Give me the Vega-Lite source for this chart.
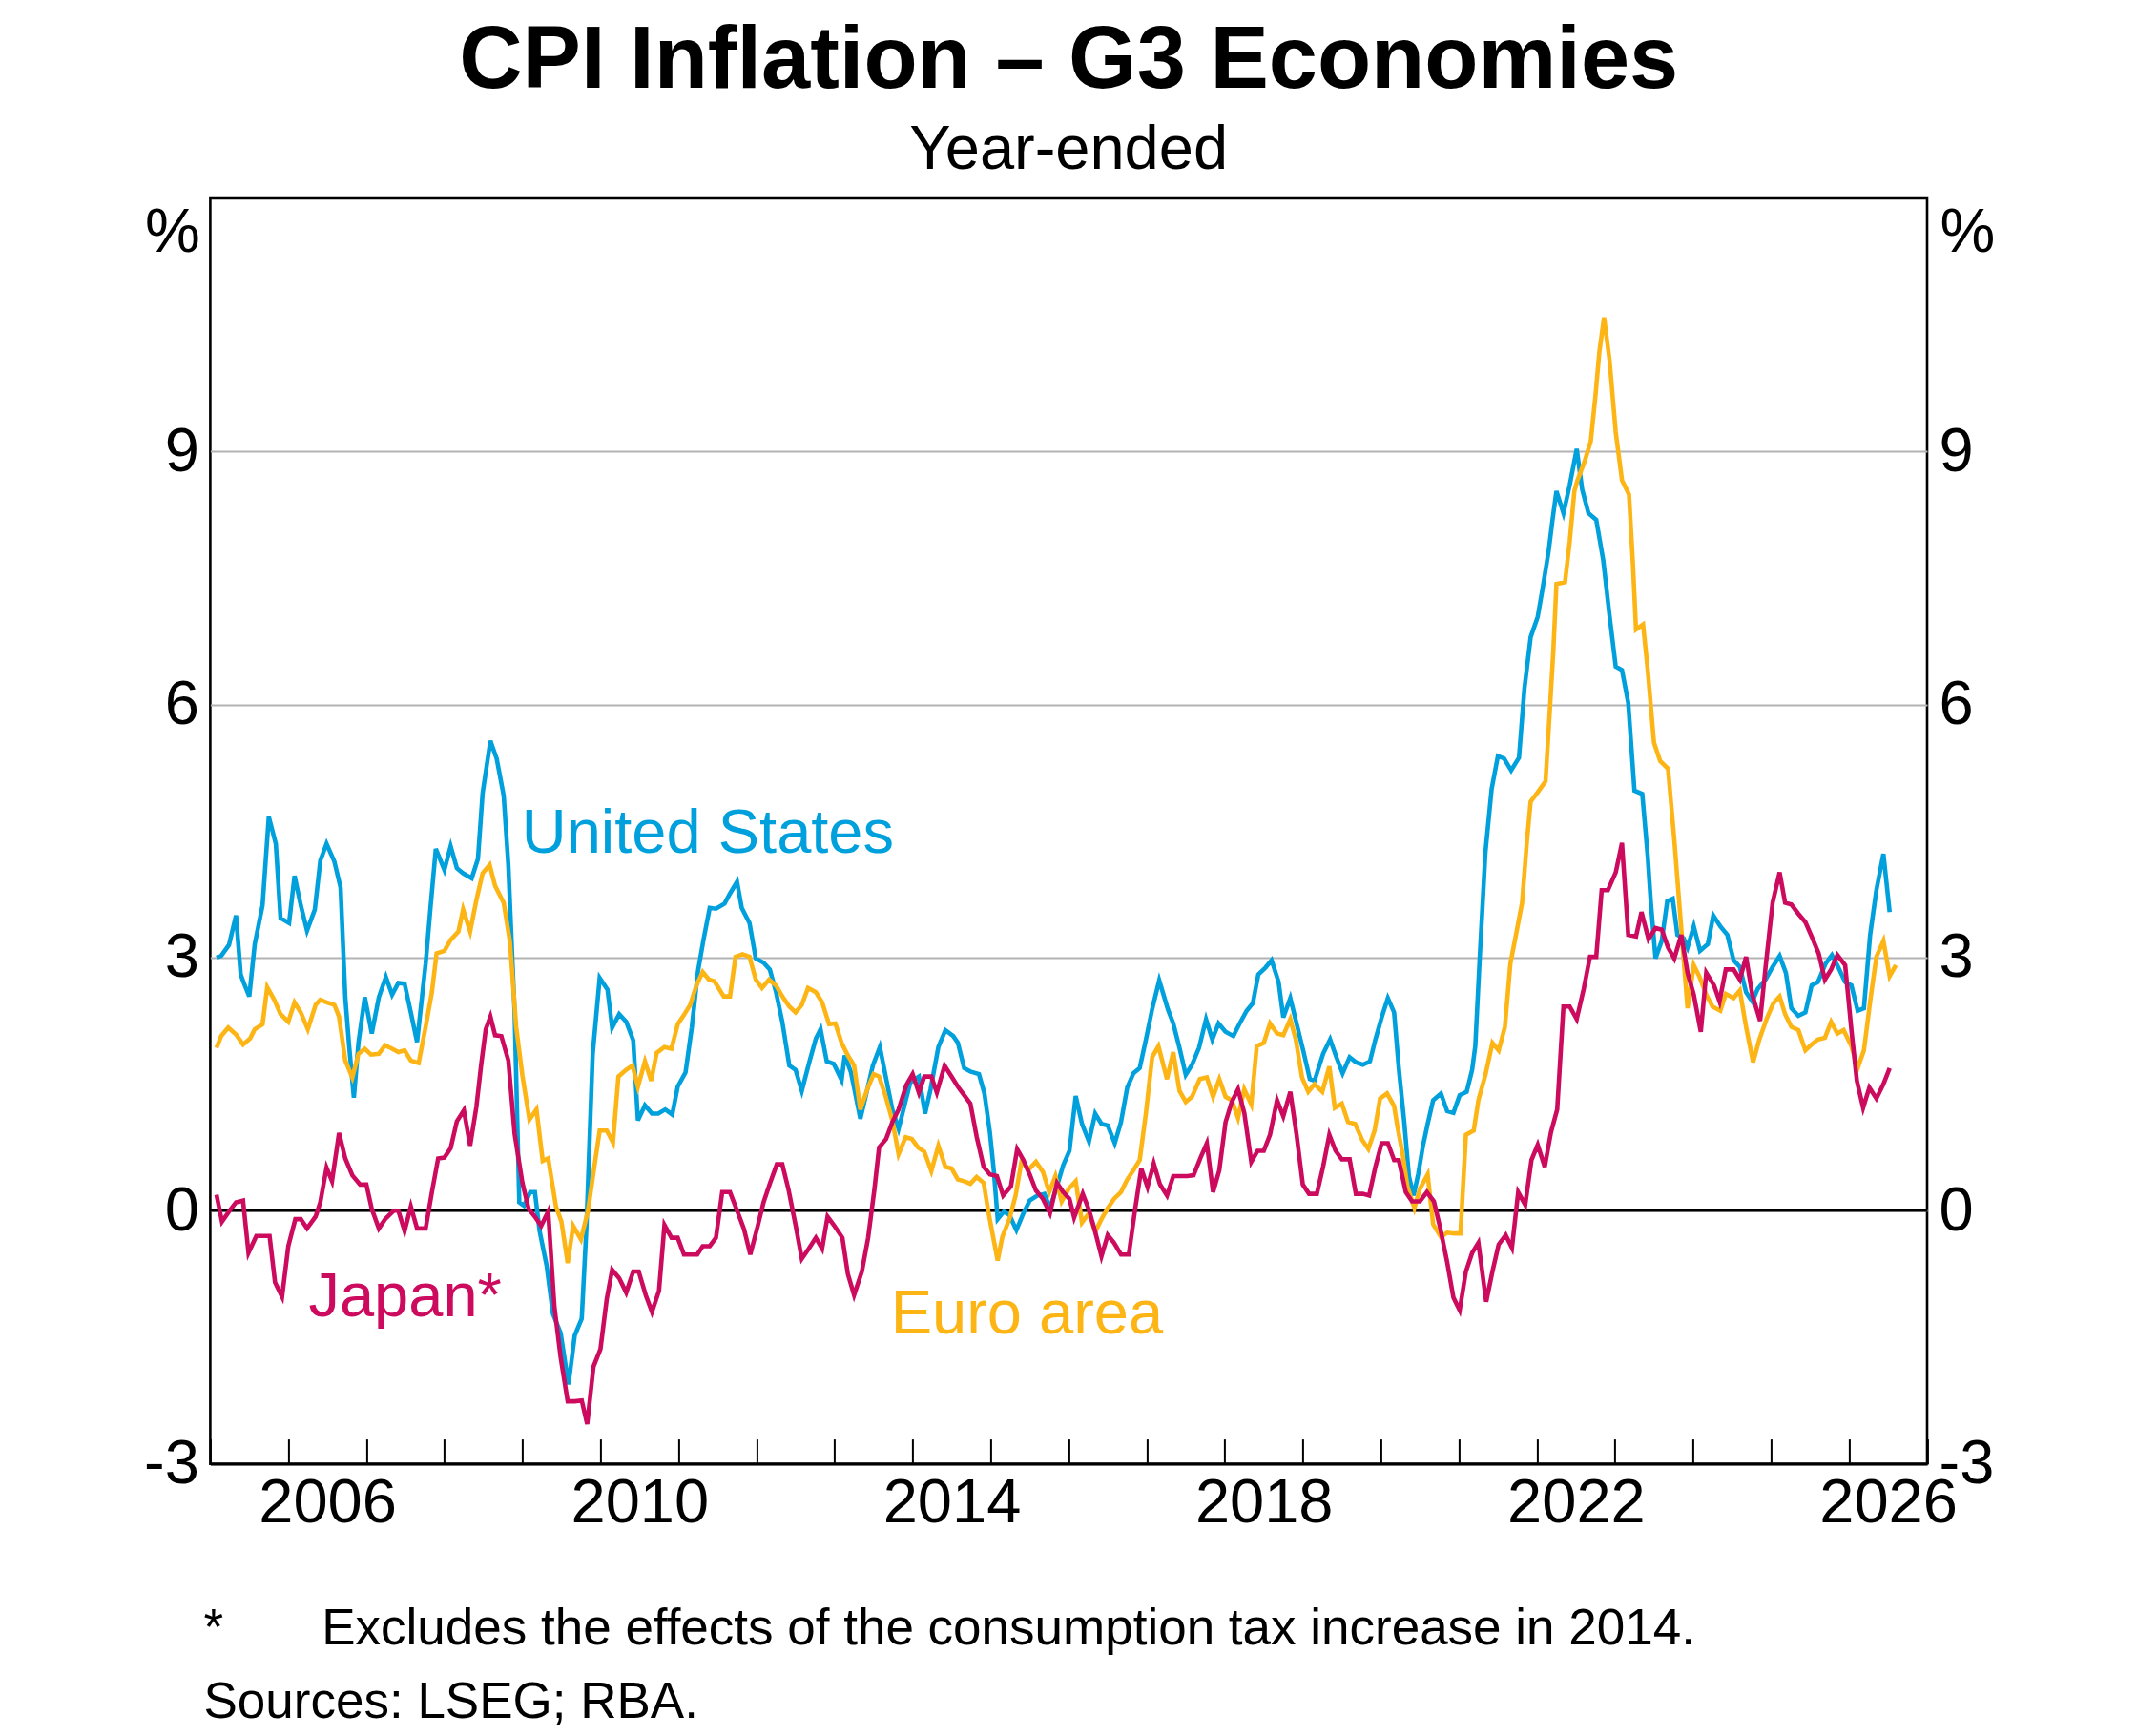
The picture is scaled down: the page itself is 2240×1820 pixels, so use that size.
{
  "$schema": "https://vega.github.io/schema/vega-lite/v6.json",
  "width": 1799.6,
  "height": 1326.6,
  "autosize": {"type": "none"},
  "padding": {"left": 220.4, "top": 208, "right": 220, "bottom": 285.4},
  "background": "white",
  "title": {
    "text": "CPI Inflation – G3 Economies",
    "subtitle": "Year-ended",
    "anchor": "middle",
    "frame": "group",
    "font": "Liberation Sans",
    "fontSize": 92,
    "fontWeight": "bold",
    "color": "black",
    "subtitleFont": "Liberation Sans",
    "subtitleFontSize": 65,
    "subtitleColor": "black",
    "subtitlePadding": 15,
    "offset": 17
  },
  "datasets": {
    "cpi": [
      {"s":"US","t":2005.08,"v":3.0},{"s":"US","t":2005.14,"v":3.02},{"s":"US","t":2005.24,"v":3.15},{"s":"US","t":2005.33,"v":3.5},{"s":"US","t":2005.39,"v":2.8},{"s":"US","t":2005.43,"v":2.7},{"s":"US","t":2005.5,"v":2.54},{"s":"US","t":2005.57,"v":3.16},{"s":"US","t":2005.67,"v":3.62},{"s":"US","t":2005.75,"v":4.67},{"s":"US","t":2005.84,"v":4.35},{"s":"US","t":2005.9,"v":3.47},
      {"s":"US","t":2006.01,"v":3.41},{"s":"US","t":2006.08,"v":3.97},{"s":"US","t":2006.16,"v":3.62},{"s":"US","t":2006.24,"v":3.32},{"s":"US","t":2006.34,"v":3.57},{"s":"US","t":2006.41,"v":4.15},{"s":"US","t":2006.49,"v":4.35},{"s":"US","t":2006.59,"v":4.14},{"s":"US","t":2006.67,"v":3.83},{"s":"US","t":2006.73,"v":2.53},{"s":"US","t":2006.78,"v":1.95},{"s":"US","t":2006.84,"v":1.34},{"s":"US","t":2006.9,"v":2.0},{"s":"US","t":2006.98,"v":2.53},
      {"s":"US","t":2007.07,"v":2.1},{"s":"US","t":2007.16,"v":2.53},{"s":"US","t":2007.25,"v":2.77},{"s":"US","t":2007.33,"v":2.56},{"s":"US","t":2007.41,"v":2.7},{"s":"US","t":2007.49,"v":2.69},{"s":"US","t":2007.57,"v":2.35},{"s":"US","t":2007.65,"v":2.0},{"s":"US","t":2007.76,"v":2.93},{"s":"US","t":2007.82,"v":3.57},{"s":"US","t":2007.89,"v":4.29},
      {"s":"US","t":2008.0,"v":4.04},{"s":"US","t":2008.08,"v":4.32},{"s":"US","t":2008.16,"v":4.06},{"s":"US","t":2008.24,"v":4.0},{"s":"US","t":2008.35,"v":3.94},{"s":"US","t":2008.43,"v":4.17},{"s":"US","t":2008.49,"v":4.95},{"s":"US","t":2008.59,"v":5.57},{"s":"US","t":2008.67,"v":5.36},{"s":"US","t":2008.76,"v":4.92},{"s":"US","t":2008.82,"v":4.09},{"s":"US","t":2008.9,"v":2.35},{"s":"US","t":2008.96,"v":0.1},
      {"s":"US","t":2009.02,"v":0.06},{"s":"US","t":2009.1,"v":0.22},{"s":"US","t":2009.16,"v":0.22},{"s":"US","t":2009.22,"v":-0.24},{"s":"US","t":2009.31,"v":-0.65},{"s":"US","t":2009.39,"v":-1.22},{"s":"US","t":2009.49,"v":-1.45},{"s":"US","t":2009.59,"v":-2.06},{"s":"US","t":2009.67,"v":-1.48},{"s":"US","t":2009.76,"v":-1.28},{"s":"US","t":2009.82,"v":-0.2},{"s":"US","t":2009.9,"v":1.85},{"s":"US","t":2009.99,"v":2.76},
      {"s":"US","t":2010.09,"v":2.62},{"s":"US","t":2010.15,"v":2.17},{"s":"US","t":2010.24,"v":2.33},{"s":"US","t":2010.33,"v":2.24},{"s":"US","t":2010.42,"v":2.02},{"s":"US","t":2010.48,"v":1.07},{"s":"US","t":2010.57,"v":1.25},{"s":"US","t":2010.66,"v":1.15},{"s":"US","t":2010.74,"v":1.15},{"s":"US","t":2010.83,"v":1.2},{"s":"US","t":2010.92,"v":1.14},{"s":"US","t":2010.99,"v":1.47},
      {"s":"US","t":2011.09,"v":1.64},{"s":"US","t":2011.17,"v":2.17},{"s":"US","t":2011.25,"v":2.84},{"s":"US","t":2011.32,"v":3.21},{"s":"US","t":2011.4,"v":3.59},{"s":"US","t":2011.48,"v":3.58},{"s":"US","t":2011.59,"v":3.64},{"s":"US","t":2011.66,"v":3.76},{"s":"US","t":2011.75,"v":3.9},{"s":"US","t":2011.81,"v":3.59},{"s":"US","t":2011.91,"v":3.41},{"s":"US","t":2011.99,"v":2.99},
      {"s":"US","t":2012.09,"v":2.94},{"s":"US","t":2012.17,"v":2.86},{"s":"US","t":2012.25,"v":2.59},{"s":"US","t":2012.33,"v":2.24},{"s":"US","t":2012.42,"v":1.72},{"s":"US","t":2012.5,"v":1.67},{"s":"US","t":2012.58,"v":1.42},{"s":"US","t":2012.67,"v":1.74},{"s":"US","t":2012.76,"v":2.04},{"s":"US","t":2012.82,"v":2.15},{"s":"US","t":2012.9,"v":1.77},{"s":"US","t":2012.99,"v":1.74},
      {"s":"US","t":2013.09,"v":1.55},{"s":"US","t":2013.13,"v":1.84},{"s":"US","t":2013.21,"v":1.64},{"s":"US","t":2013.33,"v":1.09},{"s":"US","t":2013.42,"v":1.44},{"s":"US","t":2013.49,"v":1.72},{"s":"US","t":2013.58,"v":1.94},{"s":"US","t":2013.66,"v":1.57},{"s":"US","t":2013.74,"v":1.2},{"s":"US","t":2013.82,"v":0.97},{"s":"US","t":2013.91,"v":1.3},{"s":"US","t":2013.97,"v":1.52},
      {"s":"US","t":2014.08,"v":1.59},{"s":"US","t":2014.16,"v":1.15},{"s":"US","t":2014.23,"v":1.44},{"s":"US","t":2014.33,"v":1.94},{"s":"US","t":2014.42,"v":2.14},{"s":"US","t":2014.52,"v":2.07},{"s":"US","t":2014.58,"v":1.99},{"s":"US","t":2014.66,"v":1.69},{"s":"US","t":2014.74,"v":1.65},{"s":"US","t":2014.85,"v":1.62},{"s":"US","t":2014.92,"v":1.39},{"s":"US","t":2014.99,"v":0.93},
      {"s":"US","t":2015.04,"v":0.48},{"s":"US","t":2015.09,"v":-0.1},{"s":"US","t":2015.17,"v":-0.01},{"s":"US","t":2015.24,"v":-0.05},{"s":"US","t":2015.33,"v":-0.23},{"s":"US","t":2015.42,"v":-0.03},{"s":"US","t":2015.5,"v":0.12},{"s":"US","t":2015.6,"v":0.18},{"s":"US","t":2015.69,"v":0.2},{"s":"US","t":2015.76,"v":0.03},{"s":"US","t":2015.85,"v":0.29},{"s":"US","t":2015.93,"v":0.54},
      {"s":"US","t":2016.01,"v":0.71},{"s":"US","t":2016.09,"v":1.36},{"s":"US","t":2016.17,"v":1.03},{"s":"US","t":2016.26,"v":0.82},{"s":"US","t":2016.34,"v":1.15},{"s":"US","t":2016.42,"v":1.03},{"s":"US","t":2016.5,"v":1.01},{"s":"US","t":2016.59,"v":0.8},{"s":"US","t":2016.67,"v":1.05},{"s":"US","t":2016.75,"v":1.46},{"s":"US","t":2016.83,"v":1.63},{"s":"US","t":2016.91,"v":1.69},{"s":"US","t":2016.99,"v":2.03},
      {"s":"US","t":2017.07,"v":2.39},{"s":"US","t":2017.16,"v":2.73},{"s":"US","t":2017.27,"v":2.39},{"s":"US","t":2017.34,"v":2.22},{"s":"US","t":2017.42,"v":1.93},{"s":"US","t":2017.5,"v":1.61},{"s":"US","t":2017.58,"v":1.73},{"s":"US","t":2017.67,"v":1.93},{"s":"US","t":2017.76,"v":2.27},{"s":"US","t":2017.84,"v":2.03},{"s":"US","t":2017.92,"v":2.22},
      {"s":"US","t":2018.01,"v":2.12},{"s":"US","t":2018.11,"v":2.07},{"s":"US","t":2018.18,"v":2.2},{"s":"US","t":2018.28,"v":2.37},{"s":"US","t":2018.36,"v":2.46},{"s":"US","t":2018.43,"v":2.8},{"s":"US","t":2018.52,"v":2.88},{"s":"US","t":2018.6,"v":2.97},{"s":"US","t":2018.69,"v":2.71},{"s":"US","t":2018.75,"v":2.29},{"s":"US","t":2018.84,"v":2.52},{"s":"US","t":2018.92,"v":2.22},
      {"s":"US","t":2019.01,"v":1.88},{"s":"US","t":2019.09,"v":1.56},{"s":"US","t":2019.15,"v":1.54},{"s":"US","t":2019.26,"v":1.86},{"s":"US","t":2019.35,"v":2.03},{"s":"US","t":2019.43,"v":1.82},{"s":"US","t":2019.51,"v":1.63},{"s":"US","t":2019.6,"v":1.82},{"s":"US","t":2019.68,"v":1.76},{"s":"US","t":2019.77,"v":1.73},{"s":"US","t":2019.86,"v":1.77},{"s":"US","t":2019.93,"v":2.03},
      {"s":"US","t":2020.01,"v":2.29},{"s":"US","t":2020.09,"v":2.52},{"s":"US","t":2020.17,"v":2.35},{"s":"US","t":2020.23,"v":1.69},{"s":"US","t":2020.3,"v":1.05},{"s":"US","t":2020.36,"v":0.41},{"s":"US","t":2020.42,"v":0.18},{"s":"US","t":2020.48,"v":0.44},{"s":"US","t":2020.54,"v":0.77},{"s":"US","t":2020.6,"v":1.03},{"s":"US","t":2020.67,"v":1.31},{"s":"US","t":2020.77,"v":1.39},{"s":"US","t":2020.85,"v":1.18},{"s":"US","t":2020.93,"v":1.16},
      {"s":"US","t":2021.01,"v":1.37},{"s":"US","t":2021.1,"v":1.41},{"s":"US","t":2021.17,"v":1.67},{"s":"US","t":2021.21,"v":1.95},{"s":"US","t":2021.27,"v":3.05},{"s":"US","t":2021.34,"v":4.25},{"s":"US","t":2021.42,"v":5.0},{"s":"US","t":2021.5,"v":5.39},{"s":"US","t":2021.58,"v":5.36},{"s":"US","t":2021.67,"v":5.22},{"s":"US","t":2021.77,"v":5.37},{"s":"US","t":2021.84,"v":6.19},{"s":"US","t":2021.92,"v":6.8},
      {"s":"US","t":2022.01,"v":7.04},{"s":"US","t":2022.07,"v":7.36},{"s":"US","t":2022.15,"v":7.82},{"s":"US","t":2022.2,"v":8.19},{"s":"US","t":2022.25,"v":8.53},{"s":"US","t":2022.34,"v":8.27},{"s":"US","t":2022.42,"v":8.6},{"s":"US","t":2022.51,"v":9.03},{"s":"US","t":2022.58,"v":8.55},{"s":"US","t":2022.66,"v":8.27},{"s":"US","t":2022.76,"v":8.19},{"s":"US","t":2022.85,"v":7.71},{"s":"US","t":2022.93,"v":7.06},
      {"s":"US","t":2023.01,"v":6.45},{"s":"US","t":2023.09,"v":6.41},{"s":"US","t":2023.17,"v":6.02},{"s":"US","t":2023.25,"v":4.98},{"s":"US","t":2023.35,"v":4.94},{"s":"US","t":2023.42,"v":4.2},{"s":"US","t":2023.46,"v":3.65},{"s":"US","t":2023.52,"v":2.99},{"s":"US","t":2023.6,"v":3.2},{"s":"US","t":2023.67,"v":3.67},{"s":"US","t":2023.74,"v":3.7},{"s":"US","t":2023.8,"v":3.27},{"s":"US","t":2023.88,"v":3.23},{"s":"US","t":2023.93,"v":3.12},
      {"s":"US","t":2024.01,"v":3.37},{"s":"US","t":2024.09,"v":3.08},{"s":"US","t":2024.19,"v":3.16},{"s":"US","t":2024.26,"v":3.5},{"s":"US","t":2024.35,"v":3.37},{"s":"US","t":2024.44,"v":3.27},{"s":"US","t":2024.52,"v":2.97},{"s":"US","t":2024.6,"v":2.89},{"s":"US","t":2024.68,"v":2.59},{"s":"US","t":2024.76,"v":2.48},{"s":"US","t":2024.83,"v":2.63},{"s":"US","t":2024.93,"v":2.74},
      {"s":"US","t":2025.02,"v":2.89},{"s":"US","t":2025.11,"v":3.02},{"s":"US","t":2025.19,"v":2.82},{"s":"US","t":2025.26,"v":2.4},{"s":"US","t":2025.35,"v":2.31},{"s":"US","t":2025.44,"v":2.35},{"s":"US","t":2025.52,"v":2.67},{"s":"US","t":2025.6,"v":2.71},{"s":"US","t":2025.7,"v":2.93},{"s":"US","t":2025.78,"v":3.03},{"s":"US","t":2025.86,"v":2.89},{"s":"US","t":2025.95,"v":2.71},
      {"s":"US","t":2026.03,"v":2.67},{"s":"US","t":2026.11,"v":2.37},{"s":"US","t":2026.19,"v":2.4},{"s":"US","t":2026.27,"v":3.27},{"s":"US","t":2026.35,"v":3.8},{"s":"US","t":2026.44,"v":4.23},{"s":"US","t":2026.52,"v":3.54},

      {"s":"EA","t":2005.08,"v":1.93},{"s":"EA","t":2005.14,"v":2.07},{"s":"EA","t":2005.23,"v":2.17},{"s":"EA","t":2005.33,"v":2.09},{"s":"EA","t":2005.42,"v":1.97},{"s":"EA","t":2005.51,"v":2.04},{"s":"EA","t":2005.57,"v":2.15},{"s":"EA","t":2005.67,"v":2.21},{"s":"EA","t":2005.73,"v":2.65},{"s":"EA","t":2005.82,"v":2.5},{"s":"EA","t":2005.9,"v":2.33},
      {"s":"EA","t":2006.0,"v":2.24},{"s":"EA","t":2006.08,"v":2.47},{"s":"EA","t":2006.16,"v":2.35},{"s":"EA","t":2006.25,"v":2.15},{"s":"EA","t":2006.35,"v":2.44},{"s":"EA","t":2006.41,"v":2.5},{"s":"EA","t":2006.49,"v":2.47},{"s":"EA","t":2006.59,"v":2.44},{"s":"EA","t":2006.65,"v":2.3},{"s":"EA","t":2006.73,"v":1.78},{"s":"EA","t":2006.82,"v":1.58},{"s":"EA","t":2006.9,"v":1.86},{"s":"EA","t":2006.98,"v":1.92},
      {"s":"EA","t":2007.06,"v":1.85},{"s":"EA","t":2007.16,"v":1.86},{"s":"EA","t":2007.24,"v":1.96},{"s":"EA","t":2007.33,"v":1.92},{"s":"EA","t":2007.41,"v":1.88},{"s":"EA","t":2007.49,"v":1.9},{"s":"EA","t":2007.57,"v":1.78},{"s":"EA","t":2007.67,"v":1.75},{"s":"EA","t":2007.76,"v":2.18},{"s":"EA","t":2007.84,"v":2.59},{"s":"EA","t":2007.9,"v":3.05},
      {"s":"EA","t":2008.0,"v":3.08},{"s":"EA","t":2008.08,"v":3.21},{"s":"EA","t":2008.18,"v":3.31},{"s":"EA","t":2008.24,"v":3.57},{"s":"EA","t":2008.33,"v":3.31},{"s":"EA","t":2008.41,"v":3.68},{"s":"EA","t":2008.49,"v":4.0},{"s":"EA","t":2008.58,"v":4.1},{"s":"EA","t":2008.65,"v":3.85},{"s":"EA","t":2008.76,"v":3.65},{"s":"EA","t":2008.84,"v":3.19},{"s":"EA","t":2008.92,"v":2.18},
      {"s":"EA","t":2009.0,"v":1.6},{"s":"EA","t":2009.09,"v":1.08},{"s":"EA","t":2009.18,"v":1.2},{"s":"EA","t":2009.26,"v":0.59},{"s":"EA","t":2009.33,"v":0.62},{"s":"EA","t":2009.43,"v":0.05},{"s":"EA","t":2009.5,"v":-0.13},{"s":"EA","t":2009.58,"v":-0.62},{"s":"EA","t":2009.65,"v":-0.18},{"s":"EA","t":2009.75,"v":-0.34},{"s":"EA","t":2009.84,"v":0.0},{"s":"EA","t":2009.91,"v":0.45},{"s":"EA","t":2009.99,"v":0.95},
      {"s":"EA","t":2010.08,"v":0.95},{"s":"EA","t":2010.16,"v":0.81},{"s":"EA","t":2010.23,"v":1.59},{"s":"EA","t":2010.33,"v":1.67},{"s":"EA","t":2010.41,"v":1.72},{"s":"EA","t":2010.48,"v":1.47},{"s":"EA","t":2010.57,"v":1.77},{"s":"EA","t":2010.65,"v":1.54},{"s":"EA","t":2010.72,"v":1.87},{"s":"EA","t":2010.82,"v":1.94},{"s":"EA","t":2010.91,"v":1.92},{"s":"EA","t":2010.99,"v":2.21},
      {"s":"EA","t":2011.07,"v":2.32},{"s":"EA","t":2011.15,"v":2.44},{"s":"EA","t":2011.23,"v":2.67},{"s":"EA","t":2011.31,"v":2.83},{"s":"EA","t":2011.39,"v":2.74},{"s":"EA","t":2011.46,"v":2.72},{"s":"EA","t":2011.58,"v":2.54},{"s":"EA","t":2011.66,"v":2.54},{"s":"EA","t":2011.73,"v":3.01},{"s":"EA","t":2011.82,"v":3.04},{"s":"EA","t":2011.91,"v":3.01},{"s":"EA","t":2011.99,"v":2.74},
      {"s":"EA","t":2012.07,"v":2.64},{"s":"EA","t":2012.16,"v":2.74},{"s":"EA","t":2012.25,"v":2.67},{"s":"EA","t":2012.33,"v":2.54},{"s":"EA","t":2012.42,"v":2.42},{"s":"EA","t":2012.5,"v":2.35},{"s":"EA","t":2012.58,"v":2.44},{"s":"EA","t":2012.66,"v":2.64},{"s":"EA","t":2012.76,"v":2.59},{"s":"EA","t":2012.84,"v":2.47},{"s":"EA","t":2012.93,"v":2.21},
      {"s":"EA","t":2013.01,"v":2.22},{"s":"EA","t":2013.09,"v":1.99},{"s":"EA","t":2013.17,"v":1.84},{"s":"EA","t":2013.25,"v":1.72},{"s":"EA","t":2013.33,"v":1.2},{"s":"EA","t":2013.42,"v":1.44},{"s":"EA","t":2013.5,"v":1.62},{"s":"EA","t":2013.57,"v":1.59},{"s":"EA","t":2013.65,"v":1.37},{"s":"EA","t":2013.74,"v":1.07},{"s":"EA","t":2013.82,"v":0.67},{"s":"EA","t":2013.91,"v":0.87},{"s":"EA","t":2013.99,"v":0.85},
      {"s":"EA","t":2014.07,"v":0.75},{"s":"EA","t":2014.15,"v":0.7},{"s":"EA","t":2014.24,"v":0.47},{"s":"EA","t":2014.33,"v":0.77},{"s":"EA","t":2014.42,"v":0.52},{"s":"EA","t":2014.5,"v":0.5},{"s":"EA","t":2014.58,"v":0.37},{"s":"EA","t":2014.66,"v":0.35},{"s":"EA","t":2014.74,"v":0.32},{"s":"EA","t":2014.82,"v":0.4},{"s":"EA","t":2014.91,"v":0.33},{"s":"EA","t":2014.97,"v":-0.01},
      {"s":"EA","t":2015.04,"v":-0.35},{"s":"EA","t":2015.09,"v":-0.59},{"s":"EA","t":2015.15,"v":-0.31},{"s":"EA","t":2015.24,"v":-0.1},{"s":"EA","t":2015.32,"v":0.18},{"s":"EA","t":2015.4,"v":0.61},{"s":"EA","t":2015.48,"v":0.48},{"s":"EA","t":2015.58,"v":0.58},{"s":"EA","t":2015.67,"v":0.46},{"s":"EA","t":2015.75,"v":0.22},{"s":"EA","t":2015.83,"v":0.41},{"s":"EA","t":2015.91,"v":0.11},
      {"s":"EA","t":2016.0,"v":0.26},{"s":"EA","t":2016.09,"v":0.35},{"s":"EA","t":2016.17,"v":-0.14},{"s":"EA","t":2016.26,"v":-0.03},{"s":"EA","t":2016.34,"v":-0.25},{"s":"EA","t":2016.42,"v":-0.1},{"s":"EA","t":2016.5,"v":0.03},{"s":"EA","t":2016.58,"v":0.14},{"s":"EA","t":2016.67,"v":0.22},{"s":"EA","t":2016.75,"v":0.37},{"s":"EA","t":2016.83,"v":0.48},{"s":"EA","t":2016.91,"v":0.6},{"s":"EA","t":2016.99,"v":1.16},
      {"s":"EA","t":2017.07,"v":1.82},{"s":"EA","t":2017.15,"v":1.95},{"s":"EA","t":2017.26,"v":1.56},{"s":"EA","t":2017.34,"v":1.88},{"s":"EA","t":2017.42,"v":1.42},{"s":"EA","t":2017.5,"v":1.29},{"s":"EA","t":2017.58,"v":1.35},{"s":"EA","t":2017.68,"v":1.56},{"s":"EA","t":2017.77,"v":1.58},{"s":"EA","t":2017.85,"v":1.35},{"s":"EA","t":2017.93,"v":1.56},
      {"s":"EA","t":2018.01,"v":1.35},{"s":"EA","t":2018.09,"v":1.31},{"s":"EA","t":2018.17,"v":1.1},{"s":"EA","t":2018.25,"v":1.44},{"s":"EA","t":2018.34,"v":1.26},{"s":"EA","t":2018.41,"v":1.95},{"s":"EA","t":2018.5,"v":1.99},{"s":"EA","t":2018.58,"v":2.22},{"s":"EA","t":2018.67,"v":2.1},{"s":"EA","t":2018.75,"v":2.08},{"s":"EA","t":2018.84,"v":2.27},{"s":"EA","t":2018.91,"v":2.03},{"s":"EA","t":2018.99,"v":1.58},
      {"s":"EA","t":2019.07,"v":1.41},{"s":"EA","t":2019.15,"v":1.5},{"s":"EA","t":2019.25,"v":1.41},{"s":"EA","t":2019.34,"v":1.71},{"s":"EA","t":2019.41,"v":1.22},{"s":"EA","t":2019.5,"v":1.27},{"s":"EA","t":2019.58,"v":1.05},{"s":"EA","t":2019.67,"v":1.03},{"s":"EA","t":2019.76,"v":0.84},{"s":"EA","t":2019.84,"v":0.73},{"s":"EA","t":2019.92,"v":0.95},{"s":"EA","t":2019.99,"v":1.33},
      {"s":"EA","t":2020.08,"v":1.39},{"s":"EA","t":2020.17,"v":1.24},{"s":"EA","t":2020.21,"v":1.01},{"s":"EA","t":2020.28,"v":0.67},{"s":"EA","t":2020.34,"v":0.29},{"s":"EA","t":2020.43,"v":0.03},{"s":"EA","t":2020.5,"v":0.26},{"s":"EA","t":2020.6,"v":0.43},{"s":"EA","t":2020.67,"v":-0.16},{"s":"EA","t":2020.77,"v":-0.31},{"s":"EA","t":2020.85,"v":-0.26},{"s":"EA","t":2020.94,"v":-0.27},
      {"s":"EA","t":2021.02,"v":-0.27},{"s":"EA","t":2021.09,"v":0.9},{"s":"EA","t":2021.19,"v":0.95},{"s":"EA","t":2021.25,"v":1.31},{"s":"EA","t":2021.34,"v":1.61},{"s":"EA","t":2021.43,"v":1.99},{"s":"EA","t":2021.51,"v":1.9},{"s":"EA","t":2021.59,"v":2.18},{"s":"EA","t":2021.66,"v":2.93},{"s":"EA","t":2021.74,"v":3.31},{"s":"EA","t":2021.81,"v":3.65},{"s":"EA","t":2021.87,"v":4.36},{"s":"EA","t":2021.92,"v":4.85},
      {"s":"EA","t":2022.01,"v":4.96},{"s":"EA","t":2022.11,"v":5.09},{"s":"EA","t":2022.16,"v":5.85},{"s":"EA","t":2022.21,"v":6.63},{"s":"EA","t":2022.25,"v":7.43},{"s":"EA","t":2022.36,"v":7.45},{"s":"EA","t":2022.42,"v":7.93},{"s":"EA","t":2022.48,"v":8.53},{"s":"EA","t":2022.52,"v":8.66},{"s":"EA","t":2022.61,"v":8.88},{"s":"EA","t":2022.69,"v":9.12},{"s":"EA","t":2022.75,"v":9.66},{"s":"EA","t":2022.8,"v":10.18},{"s":"EA","t":2022.86,"v":10.59},{"s":"EA","t":2022.93,"v":10.09},
      {"s":"EA","t":2023.01,"v":9.23},{"s":"EA","t":2023.09,"v":8.66},{"s":"EA","t":2023.18,"v":8.49},{"s":"EA","t":2023.23,"v":7.67},{"s":"EA","t":2023.27,"v":6.89},{"s":"EA","t":2023.36,"v":6.95},{"s":"EA","t":2023.42,"v":6.41},{"s":"EA","t":2023.5,"v":5.55},{"s":"EA","t":2023.58,"v":5.33},{"s":"EA","t":2023.68,"v":5.24},{"s":"EA","t":2023.76,"v":4.4},{"s":"EA","t":2023.93,"v":2.4},
      {"s":"EA","t":2024.01,"v":2.91},{"s":"EA","t":2024.08,"v":2.78},{"s":"EA","t":2024.17,"v":2.56},{"s":"EA","t":2024.25,"v":2.42},{"s":"EA","t":2024.35,"v":2.37},{"s":"EA","t":2024.42,"v":2.57},{"s":"EA","t":2024.52,"v":2.52},{"s":"EA","t":2024.6,"v":2.61},{"s":"EA","t":2024.68,"v":2.18},{"s":"EA","t":2024.77,"v":1.76},{"s":"EA","t":2024.85,"v":2.03},{"s":"EA","t":2024.95,"v":2.29},
      {"s":"EA","t":2025.03,"v":2.46},{"s":"EA","t":2025.11,"v":2.54},{"s":"EA","t":2025.18,"v":2.33},{"s":"EA","t":2025.26,"v":2.18},{"s":"EA","t":2025.35,"v":2.14},{"s":"EA","t":2025.44,"v":1.9},{"s":"EA","t":2025.52,"v":1.97},{"s":"EA","t":2025.6,"v":2.03},{"s":"EA","t":2025.69,"v":2.05},{"s":"EA","t":2025.77,"v":2.24},{"s":"EA","t":2025.85,"v":2.1},{"s":"EA","t":2025.93,"v":2.14},
      {"s":"EA","t":2026.03,"v":1.95},{"s":"EA","t":2026.11,"v":1.69},{"s":"EA","t":2026.19,"v":1.9},{"s":"EA","t":2026.27,"v":2.48},{"s":"EA","t":2026.35,"v":3.01},{"s":"EA","t":2026.44,"v":3.2},{"s":"EA","t":2026.52,"v":2.78},{"s":"EA","t":2026.6,"v":2.91},

      {"s":"JP","t":2005.08,"v":0.19},{"s":"JP","t":2005.15,"v":-0.13},{"s":"JP","t":2005.24,"v":-0.01},{"s":"JP","t":2005.33,"v":0.1},{"s":"JP","t":2005.42,"v":0.12},{"s":"JP","t":2005.49,"v":-0.5},{"s":"JP","t":2005.59,"v":-0.3},{"s":"JP","t":2005.76,"v":-0.3},{"s":"JP","t":2005.83,"v":-0.85},{"s":"JP","t":2005.92,"v":-1.02},
      {"s":"JP","t":2006.0,"v":-0.42},{"s":"JP","t":2006.09,"v":-0.1},{"s":"JP","t":2006.16,"v":-0.1},{"s":"JP","t":2006.24,"v":-0.21},{"s":"JP","t":2006.35,"v":-0.07},{"s":"JP","t":2006.41,"v":0.1},{"s":"JP","t":2006.49,"v":0.51},{"s":"JP","t":2006.56,"v":0.35},{"s":"JP","t":2006.65,"v":0.92},{"s":"JP","t":2006.73,"v":0.62},{"s":"JP","t":2006.82,"v":0.42},{"s":"JP","t":2006.92,"v":0.31},
      {"s":"JP","t":2007.0,"v":0.31},{"s":"JP","t":2007.07,"v":0.02},{"s":"JP","t":2007.16,"v":-0.21},{"s":"JP","t":2007.24,"v":-0.1},{"s":"JP","t":2007.35,"v":0.0},{"s":"JP","t":2007.41,"v":0.0},{"s":"JP","t":2007.49,"v":-0.24},{"s":"JP","t":2007.57,"v":0.05},{"s":"JP","t":2007.65,"v":-0.21},{"s":"JP","t":2007.76,"v":-0.21},{"s":"JP","t":2007.84,"v":0.22},{"s":"JP","t":2007.92,"v":0.62},
      {"s":"JP","t":2008.0,"v":0.63},{"s":"JP","t":2008.08,"v":0.74},{"s":"JP","t":2008.16,"v":1.06},{"s":"JP","t":2008.25,"v":1.19},{"s":"JP","t":2008.33,"v":0.77},{"s":"JP","t":2008.41,"v":1.23},{"s":"JP","t":2008.47,"v":1.72},{"s":"JP","t":2008.53,"v":2.15},{"s":"JP","t":2008.59,"v":2.3},{"s":"JP","t":2008.65,"v":2.08},{"s":"JP","t":2008.73,"v":2.07},{"s":"JP","t":2008.82,"v":1.78},{"s":"JP","t":2008.9,"v":0.91},
      {"s":"JP","t":2009.0,"v":0.33},{"s":"JP","t":2009.08,"v":0.02},{"s":"JP","t":2009.16,"v":-0.07},{"s":"JP","t":2009.24,"v":-0.18},{"s":"JP","t":2009.33,"v":-0.01},{"s":"JP","t":2009.41,"v":-1.14},{"s":"JP","t":2009.49,"v":-1.74},{"s":"JP","t":2009.58,"v":-2.26},{"s":"JP","t":2009.67,"v":-2.26},{"s":"JP","t":2009.76,"v":-2.25},{"s":"JP","t":2009.83,"v":-2.53},{"s":"JP","t":2009.91,"v":-1.85},
      {"s":"JP","t":2010.0,"v":-1.64},{"s":"JP","t":2010.08,"v":-1.05},{"s":"JP","t":2010.15,"v":-0.7},{"s":"JP","t":2010.24,"v":-0.8},{"s":"JP","t":2010.33,"v":-0.97},{"s":"JP","t":2010.42,"v":-0.72},{"s":"JP","t":2010.49,"v":-0.72},{"s":"JP","t":2010.58,"v":-1.0},{"s":"JP","t":2010.66,"v":-1.2},{"s":"JP","t":2010.75,"v":-0.95},{"s":"JP","t":2010.82,"v":-0.17},{"s":"JP","t":2010.91,"v":-0.32},{"s":"JP","t":2010.99,"v":-0.32},
      {"s":"JP","t":2011.07,"v":-0.52},{"s":"JP","t":2011.24,"v":-0.52},{"s":"JP","t":2011.31,"v":-0.42},{"s":"JP","t":2011.4,"v":-0.42},{"s":"JP","t":2011.48,"v":-0.32},{"s":"JP","t":2011.56,"v":0.22},{"s":"JP","t":2011.66,"v":0.22},{"s":"JP","t":2011.76,"v":-0.02},{"s":"JP","t":2011.84,"v":-0.22},{"s":"JP","t":2011.92,"v":-0.52},
      {"s":"JP","t":2012.01,"v":-0.2},{"s":"JP","t":2012.09,"v":0.1},{"s":"JP","t":2012.17,"v":0.32},{"s":"JP","t":2012.26,"v":0.55},{"s":"JP","t":2012.33,"v":0.55},{"s":"JP","t":2012.41,"v":0.25},{"s":"JP","t":2012.5,"v":-0.17},{"s":"JP","t":2012.58,"v":-0.57},{"s":"JP","t":2012.67,"v":-0.45},{"s":"JP","t":2012.76,"v":-0.32},{"s":"JP","t":2012.84,"v":-0.45},{"s":"JP","t":2012.91,"v":-0.07},{"s":"JP","t":2012.99,"v":-0.17},
      {"s":"JP","t":2013.1,"v":-0.32},{"s":"JP","t":2013.17,"v":-0.75},{"s":"JP","t":2013.25,"v":-1.0},{"s":"JP","t":2013.35,"v":-0.72},{"s":"JP","t":2013.43,"v":-0.32},{"s":"JP","t":2013.51,"v":0.25},{"s":"JP","t":2013.57,"v":0.75},{"s":"JP","t":2013.66,"v":0.85},{"s":"JP","t":2013.74,"v":1.05},{"s":"JP","t":2013.82,"v":1.2},{"s":"JP","t":2013.92,"v":1.49},
      {"s":"JP","t":2014.0,"v":1.62},{"s":"JP","t":2014.08,"v":1.4},{"s":"JP","t":2014.15,"v":1.59},{"s":"JP","t":2014.24,"v":1.59},{"s":"JP","t":2014.31,"v":1.4},{"s":"JP","t":2014.41,"v":1.72},{"s":"JP","t":2014.5,"v":1.59},{"s":"JP","t":2014.58,"v":1.47},{"s":"JP","t":2014.66,"v":1.37},{"s":"JP","t":2014.74,"v":1.27},{"s":"JP","t":2014.82,"v":0.88},{"s":"JP","t":2014.91,"v":0.52},{"s":"JP","t":2014.99,"v":0.43},
      {"s":"JP","t":2015.08,"v":0.41},{"s":"JP","t":2015.16,"v":0.18},{"s":"JP","t":2015.26,"v":0.29},{"s":"JP","t":2015.34,"v":0.73},{"s":"JP","t":2015.42,"v":0.6},{"s":"JP","t":2015.5,"v":0.43},{"s":"JP","t":2015.58,"v":0.24},{"s":"JP","t":2015.67,"v":0.14},{"s":"JP","t":2015.76,"v":-0.03},{"s":"JP","t":2015.85,"v":0.33},{"s":"JP","t":2015.93,"v":0.22},
      {"s":"JP","t":2016.01,"v":0.14},{"s":"JP","t":2016.07,"v":-0.08},{"s":"JP","t":2016.18,"v":0.2},{"s":"JP","t":2016.26,"v":0.01},{"s":"JP","t":2016.34,"v":-0.25},{"s":"JP","t":2016.42,"v":-0.54},{"s":"JP","t":2016.5,"v":-0.29},{"s":"JP","t":2016.58,"v":-0.38},{"s":"JP","t":2016.67,"v":-0.52},{"s":"JP","t":2016.77,"v":-0.52},{"s":"JP","t":2016.85,"v":0.01},{"s":"JP","t":2016.93,"v":0.5},
      {"s":"JP","t":2017.01,"v":0.28},{"s":"JP","t":2017.09,"v":0.56},{"s":"JP","t":2017.17,"v":0.31},{"s":"JP","t":2017.26,"v":0.18},{"s":"JP","t":2017.34,"v":0.41},{"s":"JP","t":2017.42,"v":0.41},{"s":"JP","t":2017.52,"v":0.41},{"s":"JP","t":2017.6,"v":0.42},{"s":"JP","t":2017.69,"v":0.63},{"s":"JP","t":2017.77,"v":0.8},{"s":"JP","t":2017.85,"v":0.22},{"s":"JP","t":2017.93,"v":0.48},
      {"s":"JP","t":2018.01,"v":1.05},{"s":"JP","t":2018.09,"v":1.29},{"s":"JP","t":2018.17,"v":1.44},{"s":"JP","t":2018.25,"v":1.16},{"s":"JP","t":2018.34,"v":0.58},{"s":"JP","t":2018.42,"v":0.71},{"s":"JP","t":2018.5,"v":0.71},{"s":"JP","t":2018.58,"v":0.9},{"s":"JP","t":2018.67,"v":1.31},{"s":"JP","t":2018.75,"v":1.12},{"s":"JP","t":2018.84,"v":1.41},{"s":"JP","t":2018.92,"v":0.9},
      {"s":"JP","t":2019.0,"v":0.31},{"s":"JP","t":2019.08,"v":0.2},{"s":"JP","t":2019.18,"v":0.2},{"s":"JP","t":2019.26,"v":0.52},{"s":"JP","t":2019.34,"v":0.9},{"s":"JP","t":2019.42,"v":0.71},{"s":"JP","t":2019.5,"v":0.61},{"s":"JP","t":2019.6,"v":0.61},{"s":"JP","t":2019.68,"v":0.2},{"s":"JP","t":2019.77,"v":0.2},{"s":"JP","t":2019.85,"v":0.18},{"s":"JP","t":2019.93,"v":0.52},
      {"s":"JP","t":2020.01,"v":0.8},{"s":"JP","t":2020.09,"v":0.8},{"s":"JP","t":2020.17,"v":0.6},{"s":"JP","t":2020.23,"v":0.6},{"s":"JP","t":2020.32,"v":0.22},{"s":"JP","t":2020.4,"v":0.11},{"s":"JP","t":2020.5,"v":0.11},{"s":"JP","t":2020.59,"v":0.22},{"s":"JP","t":2020.68,"v":0.11},{"s":"JP","t":2020.76,"v":-0.2},{"s":"JP","t":2020.85,"v":-0.61},{"s":"JP","t":2020.93,"v":-1.03},
      {"s":"JP","t":2021.01,"v":-1.18},{"s":"JP","t":2021.09,"v":-0.72},{"s":"JP","t":2021.17,"v":-0.5},{"s":"JP","t":2021.25,"v":-0.38},{"s":"JP","t":2021.35,"v":-1.08},{"s":"JP","t":2021.43,"v":-0.72},{"s":"JP","t":2021.51,"v":-0.4},{"s":"JP","t":2021.6,"v":-0.29},{"s":"JP","t":2021.68,"v":-0.44},{"s":"JP","t":2021.76,"v":0.22},{"s":"JP","t":2021.85,"v":0.07},{"s":"JP","t":2021.93,"v":0.6},
      {"s":"JP","t":2022.01,"v":0.78},{"s":"JP","t":2022.1,"v":0.52},{"s":"JP","t":2022.18,"v":0.93},{"s":"JP","t":2022.26,"v":1.2},{"s":"JP","t":2022.34,"v":2.42},{"s":"JP","t":2022.42,"v":2.42},{"s":"JP","t":2022.51,"v":2.27},{"s":"JP","t":2022.6,"v":2.63},{"s":"JP","t":2022.68,"v":3.01},{"s":"JP","t":2022.76,"v":3.01},{"s":"JP","t":2022.83,"v":3.8},{"s":"JP","t":2022.91,"v":3.8},
      {"s":"JP","t":2023.01,"v":4.01},{"s":"JP","t":2023.09,"v":4.36},{"s":"JP","t":2023.17,"v":3.27},{"s":"JP","t":2023.27,"v":3.25},{"s":"JP","t":2023.34,"v":3.54},{"s":"JP","t":2023.43,"v":3.22},{"s":"JP","t":2023.52,"v":3.35},{"s":"JP","t":2023.6,"v":3.33},{"s":"JP","t":2023.68,"v":3.12},{"s":"JP","t":2023.76,"v":2.99},{"s":"JP","t":2023.85,"v":3.27},{"s":"JP","t":2023.93,"v":2.82},
      {"s":"JP","t":2024.01,"v":2.56},{"s":"JP","t":2024.1,"v":2.12},{"s":"JP","t":2024.17,"v":2.82},{"s":"JP","t":2024.27,"v":2.67},{"s":"JP","t":2024.34,"v":2.48},{"s":"JP","t":2024.42,"v":2.86},{"s":"JP","t":2024.52,"v":2.86},{"s":"JP","t":2024.6,"v":2.74},{"s":"JP","t":2024.68,"v":3.01},{"s":"JP","t":2024.76,"v":2.56},{"s":"JP","t":2024.86,"v":2.25},{"s":"JP","t":2024.93,"v":2.89},
      {"s":"JP","t":2025.02,"v":3.65},{"s":"JP","t":2025.11,"v":4.01},{"s":"JP","t":2025.18,"v":3.65},{"s":"JP","t":2025.26,"v":3.63},{"s":"JP","t":2025.35,"v":3.52},{"s":"JP","t":2025.44,"v":3.42},{"s":"JP","t":2025.53,"v":3.23},{"s":"JP","t":2025.61,"v":3.05},{"s":"JP","t":2025.69,"v":2.74},{"s":"JP","t":2025.77,"v":2.86},{"s":"JP","t":2025.85,"v":3.03},{"s":"JP","t":2025.95,"v":2.91},
      {"s":"JP","t":2026.03,"v":2.14},{"s":"JP","t":2026.1,"v":1.54},{"s":"JP","t":2026.18,"v":1.22},{"s":"JP","t":2026.26,"v":1.46},{"s":"JP","t":2026.35,"v":1.33},{"s":"JP","t":2026.44,"v":1.5},{"s":"JP","t":2026.52,"v":1.69}
    ],
    "labels": [
      {"s": "US", "label": "United States", "t": 2008.99, "v": 4.24},
      {"s": "JP", "label": "Japan*", "t": 2006.26, "v": -1.25},
      {"s": "EA", "label": "Euro area", "t": 2013.72, "v": -1.45}
    ],
    "zero": [{"v": 0}]
  },
  "layer": [
    {
      "data": {"name": "zero"},
      "mark": {"type": "rule", "color": "black", "strokeWidth": 2.6},
      "encoding": {
        "y": {
          "field": "v",
          "type": "quantitative",
          "scale": {"domain": [-3, 12], "nice": false, "zero": false},
          "axis": {
            "orient": "right",
            "values": [-3, 0, 3, 6, 9],
            "labelExpr": "'' + datum.value",
            "grid": false,
            "ticks": false,
            "domain": false,
            "labelPadding": 12,
            "labelFont": "Liberation Sans",
            "labelFontSize": 65,
            "labelColor": "black",
            "labelBaseline": "middle",
            "labelFlush": false,
            "labelOverlap": false,
            "title": "%",
            "titleAngle": 0,
            "titleX": 13,
            "titleY": 55,
            "titleAlign": "left",
            "titleBaseline": "alphabetic",
            "titleFont": "Liberation Sans",
            "titleFontSize": 65,
            "titleFontWeight": "normal",
            "titleColor": "black"
          }
        }
      }
    },
    {
      "data": {"name": "cpi"},
      "mark": {"type": "line", "strokeWidth": 4.6, "strokeJoin": "miter", "clip": true},
      "encoding": {
        "x": {
          "field": "t",
          "type": "quantitative",
          "scale": {"domain": [2005, 2027], "nice": false, "zero": false},
          "axis": {
            "values": [2005, 2006, 2007, 2008, 2009, 2010, 2011, 2012, 2013, 2014, 2015, 2016, 2017, 2018, 2019, 2020, 2021, 2022, 2023, 2024, 2025, 2026, 2027],
            "labelExpr": "(datum.value % 4 == 2 && datum.value < 2027) ? '' + datum.value : ''",
            "labelOffset": 40.9,
            "labelPadding": 87,
            "labelBaseline": "alphabetic",
            "labelFont": "Liberation Sans",
            "labelFontSize": 65,
            "labelColor": "black",
            "labelFlush": false,
            "labelOverlap": false,
            "tickSize": -26,
            "tickColor": "black",
            "tickWidth": 2,
            "domainColor": "black",
            "domainWidth": 2.6,
            "grid": false,
            "title": ["*\u00a0\u00a0\u00a0\u00a0\u00a0\u00a0\u00a0Excludes the effects of the consumption tax increase in 2014.", "Sources: LSEG; RBA."],
            "titleX": -7.4,
            "titleY": 188.4,
            "titleAlign": "left",
            "titleAnchor": "start",
            "titleBaseline": "alphabetic",
            "titleFont": "Liberation Sans",
            "titleFontSize": 53,
            "titleFontWeight": "normal",
            "titleColor": "black",
            "titleLineHeight": 77
          }
        },
        "y": {
          "field": "v",
          "type": "quantitative",
          "scale": {"domain": [-3, 12], "nice": false, "zero": false},
          "axis": {
            "orient": "left",
            "values": [-3, 0, 3, 6, 9],
            "labelExpr": "'' + datum.value",
            "grid": true,
            "gridColor": "#b3b3b3",
            "gridWidth": 2,
            "ticks": false,
            "domain": false,
            "labelPadding": 12,
            "labelFont": "Liberation Sans",
            "labelFontSize": 65,
            "labelColor": "black",
            "labelBaseline": "middle",
            "labelFlush": false,
            "labelOverlap": false,
            "title": "%",
            "titleAngle": 0,
            "titleX": -11,
            "titleY": 55,
            "titleAlign": "right",
            "titleBaseline": "alphabetic",
            "titleFont": "Liberation Sans",
            "titleFontSize": 65,
            "titleFontWeight": "normal",
            "titleColor": "black"
          }
        },
        "color": {
          "field": "s",
          "type": "nominal",
          "scale": {"domain": ["US", "EA", "JP"], "range": ["#00A0DD", "#FDB515", "#CC0A5E"]},
          "legend": null
        }
      }
    },
    {
      "data": {"name": "labels"},
      "mark": {"type": "text", "align": "left", "baseline": "alphabetic", "font": "Liberation Sans", "fontSize": 65},
      "encoding": {
        "x": {"field": "t", "type": "quantitative"},
        "y": {"field": "v", "type": "quantitative", "axis": null},
        "text": {"field": "label"},
        "color": {"field": "s", "type": "nominal", "legend": null}
      }
    }
  ],
  "resolve": {"axis": {"y": "independent"}},
  "config": {
    "view": {"stroke": "black", "strokeWidth": 2.6},
    "font": "Liberation Sans"
  }
}
